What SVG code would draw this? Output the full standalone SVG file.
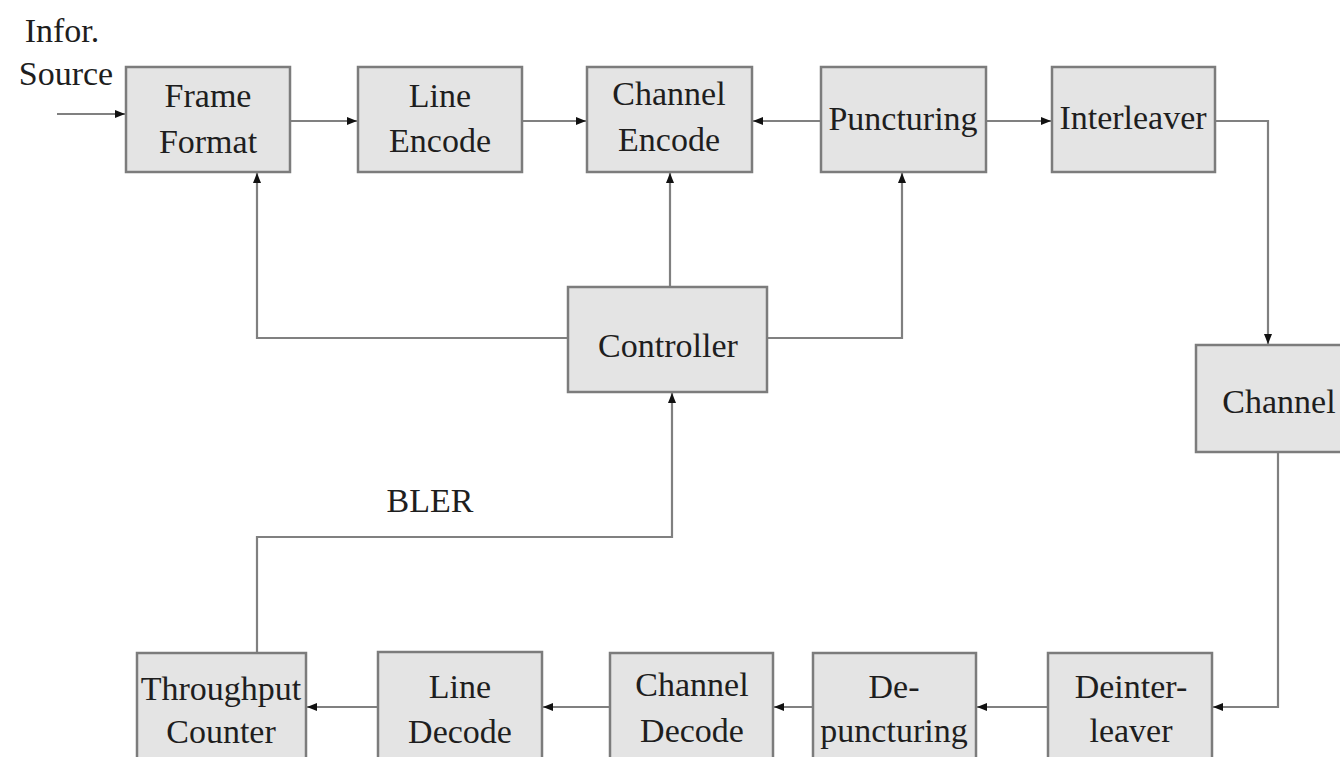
<svg xmlns="http://www.w3.org/2000/svg" width="1340" height="757" viewBox="0 0 1340 757">
<style>
.box{fill:#e4e4e4;stroke:#7c7c7c;stroke-width:2.5}
.t{font-family:'Liberation Serif','DejaVu Serif',serif;font-size:34px;fill:#1e1e1e;text-anchor:middle}
.c{fill:none;stroke:#808080;stroke-width:2.2}
</style>
<defs>
<marker id="ah" markerUnits="userSpaceOnUse" markerWidth="10" markerHeight="10" viewBox="0 0 10 10" refX="10" refY="5" orient="auto">
<path d="M0,1 L10,5 L0,9 Z" fill="#111"/>
</marker>
</defs>
<rect width="1340" height="757" fill="#fff"/>
<g id="connectors">
<path class="c" d="M57,114 H125" marker-end="url(#ah)"/>
<path class="c" d="M290,121 H357" marker-end="url(#ah)"/>
<path class="c" d="M522,121 H586" marker-end="url(#ah)"/>
<path class="c" d="M821,121 H753" marker-end="url(#ah)"/>
<path class="c" d="M986,121 H1051" marker-end="url(#ah)"/>
<path class="c" d="M1215,121 H1268 V344" marker-end="url(#ah)"/>
<path class="c" d="M1278,452 V707 H1213" marker-end="url(#ah)"/>
<path class="c" d="M1048,707 H977" marker-end="url(#ah)"/>
<path class="c" d="M813,707 H774" marker-end="url(#ah)"/>
<path class="c" d="M610,707 H543" marker-end="url(#ah)"/>
<path class="c" d="M378,707 H307" marker-end="url(#ah)"/>
<path class="c" d="M257,652 V537 H672 V393" marker-end="url(#ah)"/>
<path class="c" d="M568,338 H257 V173" marker-end="url(#ah)"/>
<path class="c" d="M670,287 V173" marker-end="url(#ah)"/>
<path class="c" d="M767,338 H902 V173" marker-end="url(#ah)"/>
</g>
<g font-family="Liberation Serif, serif">
<g id="source"><text class="t" x="62" y="42">Infor.</text><text class="t" x="66" y="85">Source</text></g>
<g id="frame-format"><rect class="box" x="126" y="67" width="164" height="105"/><text class="t" x="208" y="107">Frame</text><text class="t" x="208" y="153">Format</text></g>
<g id="line-encode"><rect class="box" x="358" y="67" width="164" height="105"/><text class="t" x="440" y="107">Line</text><text class="t" x="440" y="152">Encode</text></g>
<g id="channel-encode"><rect class="box" x="587" y="67" width="165" height="105"/><text class="t" x="669" y="105">Channel</text><text class="t" x="669" y="151">Encode</text></g>
<g id="puncturing"><rect class="box" x="821" y="67" width="165" height="105"/><text class="t" x="903" y="130">Puncturing</text></g>
<g id="interleaver"><rect class="box" x="1052" y="67" width="163" height="105"/><text class="t" x="1133" y="129">Interleaver</text></g>
<g id="channel"><rect class="box" x="1196" y="345" width="160" height="107"/><text class="t" x="1279" y="413">Channel</text></g>
<g id="controller"><rect class="box" x="568" y="287" width="199" height="105"/><text class="t" x="668" y="357">Controller</text></g>
<g id="bler"><text class="t" x="430" y="512">BLER</text></g>
<g id="throughput-counter"><rect class="box" x="137" y="653" width="169" height="110"/><text class="t" x="221" y="700">Throughput</text><text class="t" x="221" y="743">Counter</text></g>
<g id="line-decode"><rect class="box" x="378" y="652" width="164" height="110"/><text class="t" x="460" y="698">Line</text><text class="t" x="460" y="743">Decode</text></g>
<g id="channel-decode"><rect class="box" x="610" y="653" width="163" height="110"/><text class="t" x="692" y="696">Channel</text><text class="t" x="692" y="742">Decode</text></g>
<g id="de-puncturing"><rect class="box" x="813" y="653" width="163" height="110"/><text class="t" x="894" y="698">De-</text><text class="t" x="894" y="742">puncturing</text></g>
<g id="deinterleaver"><rect class="box" x="1048" y="653" width="164" height="110"/><text class="t" x="1131" y="698">Deinter-</text><text class="t" x="1131" y="742">leaver</text></g>
</g>
</svg>
